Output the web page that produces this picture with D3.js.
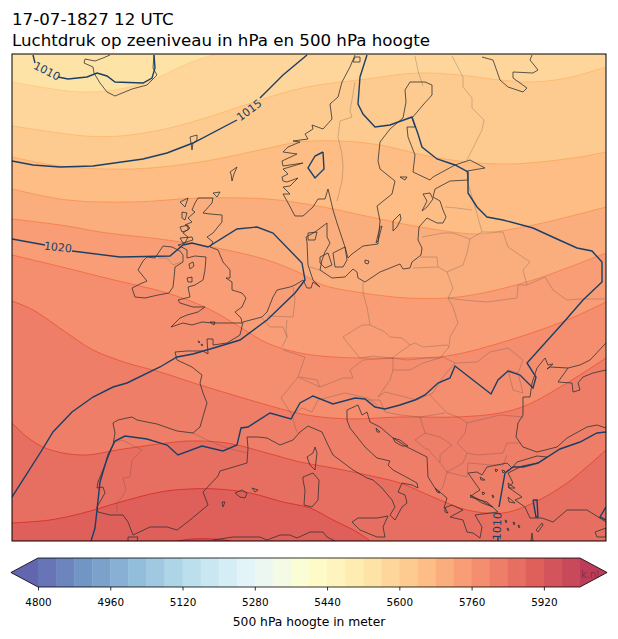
<!DOCTYPE html>
<html>
<head>
<meta charset="utf-8">
<script src="https://cdn.jsdelivr.net/npm/d3@7"></script>
<style>
body { margin: 0; background: #fff; }
text { font-family: "DejaVu Sans", sans-serif; }
</style>
</head>
<body>
<div id="chart"></div>
<script>
// map grid units: easting, southing from the top left corner of the map frame
const titleLines = ["17-07-1827 12 UTC", "Luchtdruk op zeeniveau in hPa en 500 hPa hoogte"];
const colorbarLabel = "500 hPa hoogte in meter";
const colorStops = ["#313695", "#4575b4", "#74add1", "#abd9e9", "#e0f3f8", "#ffffbf", "#fee090", "#fdae61", "#f46d43", "#d73027", "#a50026"];
const colorbarLevels = d3.range(4800, 6001, 40);
const colorbarTicks = [4800, 4960, 5120, 5280, 5440, 5600, 5760, 5920];

// 500 hPa height contours
const height5520 = [[0, 0], [594, 0]];
const height5560 = [[0,28],[28,33],[68,38],[103,36],[128,30],[145,24],[175,10],[204,0]];
const height5600 = [[0,72],[33,77],[73,82],[108,82],[153,75],[203,61],[248,46],[295,33],[355,25],[405,19],[448,21],[488,26],[521,28],[555,24],[594,13]];
const height5640 = [[0,103],[48,112],[121,115],[188,108],[248,96],[288,88],[328,87],[368,91],[411,101],[455,108],[498,110],[528,108],[568,103],[594,98]];
const height5680 = [[0,135],[55,146],[121,148],[188,144],[255,145],[288,149],[321,155],[368,165],[408,173],[465,180],[495,176],[535,168],[571,159],[594,153]];
const height5720 = [[0,165],[55,172],[88,178],[155,186],[205,194],[255,206],[288,219],[311,231],[351,239],[395,244],[435,244],[471,239],[521,226],[555,214],[594,199]];
const height5760 = [[0,201],[50,213],[98,225],[155,239],[195,254],[228,273],[255,289],[288,299],[321,303],[388,304],[435,302],[488,289],[555,266],[594,248]];
const height5800 = [[0,247],[21,256],[55,279],[81,296],[115,309],[148,318],[188,331],[221,341],[255,351],[281,358],[301,362],[338,365],[388,363],[445,363],[488,359],[515,351],[555,329],[594,304]];
const height5840 = [[0,369],[15,383],[31,393],[51,399],[75,401],[105,396],[155,389],[178,387],[215,389],[255,399],[288,408],[321,414],[355,421],[388,429],[421,443],[455,456],[491,459],[521,449],[555,429],[594,396]];
const height5880 = [[0,469],[38,466],[71,459],[105,449],[148,438],[178,435],[205,435],[238,439],[271,448],[298,454],[321,466],[345,478],[358,487]];
const height5920 = [[165,487],[181,485],[208,485.5],[218,487]];
const heightLevels = [5520, 5560, 5600, 5640, 5680, 5720, 5760, 5800, 5840, 5880, 5920];
const heightLines = [height5520, height5560, height5600, height5640, height5680, height5720, height5760, height5800, height5840, height5880, height5920];

// sea level pressure contours, broken where a label sits
const pressure1010a = [[21,1],[23,9]];
const pressure1010b = [[46,23],[56,25],[75,23],[85,19],[95,22],[103,28],[131,29],[140,24],[143,14],[142,1]];
const pressure1015a = [[0,107],[21,111],[48,113],[81,112],[131,105],[155,99],[181,89],[225,66]];
const pressure1015b = [[248,44],[271,21],[295,1]];
const pressure1015c = [[355,1],[348,23],[346,50],[351,60],[363,73],[378,71],[400,63],[406,80],[410,93],[425,105],[443,111],[456,118],[456,126],[456,139],[465,153],[475,163],[491,166],[521,174],[545,185],[565,194],[580,197],[590,208],[590,228],[571,246],[551,269],[515,309],[524,323],[521,334],[508,321],[496,317],[486,326],[479,340],[443,312],[438,324],[426,329],[413,341],[403,346],[388,351],[373,355],[363,353],[353,345],[343,344],[321,350],[301,342],[288,349],[279,365],[258,359],[236,373],[229,374],[225,391],[211,397],[190,392],[166,401],[155,391],[135,385],[113,382],[103,387],[96,401],[88,428],[85,456],[83,474],[79,487]];
const pressure1015d = [[311,98],[303,102],[296,114],[303,124],[312,115],[311,98]];
const pressure1020a = [[0,185],[33,191]];
const pressure1020b = [[60,197],[108,203],[158,202],[171,191],[180,189],[196,193],[225,175],[245,173],[261,179],[290,209],[293,226],[283,239],[255,266],[228,286],[205,293],[181,300],[165,303],[148,313],[115,329],[101,333],[81,343],[60,358],[41,378],[30,396],[0,443]];
const pressure1010c = [[594,378],[585,379],[568,388],[548,395],[526,409],[511,413],[501,413],[493,419],[490,436],[487,453]];
const pressure1010d = [[486,483],[486,487]];
const pressure1010e = [[521,446],[525,446],[526,463],[524,463],[521,446]];
const pressure1010f = [[594,453],[588,463],[594,466]];
const pressureLines = [pressure1010a, pressure1010b, pressure1015a, pressure1015b, pressure1015c, pressure1015d, pressure1020a, pressure1020b, pressure1010c, pressure1010d, pressure1010e, pressure1010f];
const pressureLabels = ["1010", "1015", "1020", "1010"];
const pressureLabelAt = [[35,17,27], [237,56,-37], [46,193,6], [485,472,-88]];

// coast lines
const coastAtlantic = [[121,481],[116,468],[111,461],[98,461],[86,458],[85,453],[93,439],[91,433],[85,434],[86,428],[95,406],[101,391],[103,379],[101,369],[106,366],[115,364],[120,363],[125,366],[145,370],[165,377],[181,379],[188,373],[192,359],[195,349],[191,339],[188,329],[190,321],[180,313],[165,306],[163,298],[175,297],[191,297],[196,300],[195,285],[201,285],[201,291],[215,289],[228,281],[231,268],[250,263],[255,258],[261,243],[265,236],[278,233],[283,231],[291,226],[295,234],[299,234],[301,228],[308,233],[301,226],[296,211],[295,188],[294,183],[303,178],[315,169],[315,183],[318,189],[313,198],[310,206],[308,216],[320,224],[333,223],[341,215],[345,218],[346,224],[353,228],[368,218],[388,210],[391,215],[398,214],[400,208],[409,201],[410,194],[406,186],[407,173],[415,164],[425,169],[431,169],[434,163],[431,156],[428,147],[421,143],[423,135],[438,127],[456,126],[455,117],[473,114],[458,106],[443,111],[421,123],[418,126],[401,118],[403,101],[396,83],[395,73],[403,73],[400,64],[411,51],[420,41],[420,31],[413,28],[398,28],[393,36],[394,48],[391,64],[378,75],[368,88],[366,107],[368,115],[383,127],[380,140],[365,152],[368,167],[366,190],[351,192],[340,200],[336,204],[333,193],[325,169],[321,156],[318,143],[316,135],[313,145],[306,145],[301,153],[291,162],[283,162],[275,147],[271,140],[278,140],[271,133],[278,132],[286,124],[275,128],[271,127],[270,123],[276,120],[271,115],[291,109],[271,112],[270,107],[285,100],[271,98],[276,93],[288,88],[281,87],[296,85],[293,80],[301,75],[300,71],[311,75],[320,65],[318,50],[326,43],[330,28],[338,13],[343,1]];
const coastMediterranean = [[121,481],[138,473],[155,473],[165,476],[178,466],[196,451],[191,438],[206,422],[208,417],[235,409],[236,394],[235,383],[246,383],[255,384],[268,391],[281,386],[288,378],[296,372],[310,378],[316,391],[321,401],[341,416],[355,424],[361,426],[370,434],[380,446],[383,453],[378,461],[383,466],[390,453],[395,449],[393,441],[386,438],[390,429],[400,431],[406,434],[405,429],[396,424],[381,416],[376,411],[378,407],[365,404],[353,393],[338,374],[335,366],[335,356],[346,351],[350,361],[355,358],[358,368],[368,373],[381,384],[395,393],[415,403],[416,423],[423,434],[435,444],[432,454],[440,451],[451,456],[438,463],[451,466],[455,478],[461,479],[468,484],[470,473],[463,461],[478,459],[486,458],[475,448],[458,443],[463,439],[468,436],[456,419],[465,418],[470,421],[475,413],[495,409],[500,414],[505,408],[525,402],[535,403]];
const coastTurkey = [[535,403],[526,409],[510,412],[496,419],[501,429],[496,433],[510,443],[503,446],[513,453],[518,464],[530,464],[541,468],[555,456],[575,456],[583,461],[594,468]];
const coastBlackSea = [[594,316],[581,319],[571,323],[566,329],[568,336],[561,338],[560,329],[546,328],[556,314],[538,313],[535,315],[541,310],[536,311],[533,304],[525,314],[520,329],[518,343],[511,343],[511,361],[506,369],[504,383],[511,393],[525,398],[545,393],[555,384],[575,373],[585,371],[594,374]];
const coastAzov = [[556,314],[568,311],[578,306],[594,289]];
const coastIceland = [[98,1],[91,4],[83,7],[73,5],[72,9],[81,13],[82,19],[88,29],[95,38],[103,42],[120,35],[135,31],[145,21],[141,14],[142,1]];
const coastKola = [[470,3],[481,6],[488,26],[496,33],[511,38],[515,34],[501,24],[501,18],[521,19],[526,16],[518,6],[520,1]];
const coastNorthAfrica = [[201,486],[221,483],[248,483],[255,486],[268,481],[278,481],[285,484],[298,478],[311,478],[315,483],[323,487]];
const coastMorocco = [[116,487],[116,483],[126,483],[125,487]];
const openCoasts = [coastAtlantic, coastMediterranean, coastTurkey, coastBlackSea, coastAzov, coastIceland, coastKola, coastNorthAfrica, coastMorocco];

// islands
const britain = [[183,149],[186,144],[201,144],[200,149],[191,159],[198,160],[210,161],[210,168],[205,174],[201,179],[195,183],[201,188],[198,193],[206,196],[211,208],[218,216],[218,224],[214,224],[220,228],[220,236],[230,239],[234,244],[230,253],[223,258],[229,264],[230,269],[218,269],[201,269],[190,268],[180,271],[171,269],[159,273],[168,264],[175,261],[186,258],[193,253],[181,253],[168,249],[166,246],[178,243],[176,233],[183,231],[191,226],[193,216],[194,203],[183,202],[175,204],[175,196],[166,191],[173,189],[176,183],[171,179],[178,174],[173,171],[180,168],[176,164],[183,158],[180,156]];
const ireland = [[143,204],[151,192],[160,193],[168,197],[171,201],[171,208],[163,213],[162,224],[161,233],[157,239],[146,241],[133,244],[123,243],[120,234],[128,230],[135,227],[126,216],[131,207],[135,203]];
const corsica = [[303,393],[305,399],[303,416],[298,411],[295,403],[301,399]];
const sardinia = [[291,423],[301,419],[307,426],[306,446],[300,453],[292,451],[293,436],[291,426]];
const sicily = [[340,468],[346,464],[365,464],[376,462],[371,473],[373,483],[365,483],[348,476]];
const mallorca = [[223,439],[230,436],[235,439],[233,444],[228,443]];
const smallIslands = [
  [[178,83],[185,81],[185,86],[181,89],[180,96],[179,89]], [[218,118],[225,113],[222,120],[220,127],[219,120]], [[201,139],[208,138],[205,143]],
  [[168,148],[176,144],[173,153]], [[170,158],[175,159],[173,166],[170,164]], [[168,173],[176,171],[176,176],[170,178]], [[168,184],[180,183],[181,186],[171,189]],
  [[177,210],[181,208],[182,212],[178,215]], [[175,224],[180,223],[180,228],[176,228]], [[198,268],[203,268],[202,271]], [[186,287],[188,288],[187,289]], [[189,290],[191,291],[190,292]],
  [[240,434],[246,436],[243,438]], [[210,448],[213,448],[211,453]],
  [[388,160],[381,167],[381,177],[385,173],[389,165]], [[370,172],[366,187],[364,189],[368,173]], [[411,140],[418,139],[421,145],[415,153],[410,157],[415,147]], [[388,123],[395,123],[393,126]],
  [[308,203],[316,199],[320,211],[313,214],[308,209]], [[321,199],[333,193],[335,206],[331,213],[323,213]], [[353,206],[357,207],[356,210],[353,209]], [[296,179],[305,178],[303,186],[296,186]],
  [[343,3],[348,3],[348,8],[341,8]],
  [[381,384],[388,386],[396,392],[390,392],[383,388]], [[364,374],[368,378],[365,378]], [[423,434],[428,439],[425,438]], [[433,454],[436,459],[433,458]],
  [[458,441],[470,447],[481,453],[470,449]], [[496,429],[503,434],[497,434]], [[496,443],[503,449],[497,448]], [[468,423],[473,426],[469,426]],
  [[493,466],[495,467],[494,469]], [[501,468],[503,469],[502,471]], [[506,471],[508,472],[507,474]], [[495,474],[497,475],[496,477]], [[480,441],[482,442],[481,444]], [[470,438],[473,439],[471,441]], [[490,416],[493,417],[491,419]], [[483,415],[486,416],[484,418]],
  [[524,476],[530,469],[531,471],[526,478]], [[520,479],[521,487],[519,487]], [[583,478],[594,474],[594,483],[585,483]]
];
const closedCoasts = [britain, ireland, corsica, sardinia, sicily, mallorca].concat(smallIslands);

// country borders
const borderNorwaySweden = [[343,28],[338,57],[340,63],[328,67],[326,83],[330,100],[331,113],[330,127],[325,147]];
const borderSwedenFinland = [[403,2],[406,17],[411,32]];
const borderFinlandRussia = [[440,2],[451,23],[451,33],[460,44],[460,54],[472,66],[470,76],[455,106]];
const borderEstonia = [[455,126],[463,153],[470,178]];
const borderEstoniaLatvia = [[433,153],[445,154],[460,156]];
const borderLatviaLithuania = [[410,183],[431,179],[441,179],[458,185],[470,178]];
const borderLithuania = [[458,185],[455,199],[451,211],[435,218],[426,213],[425,203],[408,203]];
const borderKaliningrad = [[401,214],[426,213]];
const borderBelarusRussia = [[470,178],[491,178],[496,193],[518,208],[511,216],[515,231],[533,223],[541,236],[555,246],[568,245],[594,245]];
const borderPolandEast = [[435,218],[441,234],[436,244],[441,253],[446,269],[438,283],[437,293]];
const borderBelarusUkraine = [[436,244],[451,246],[475,248],[505,244],[506,231],[515,231]];
const borderGermanyPoland = [[351,228],[351,239],[355,253],[358,271]];
const borderCzechia = [[358,271],[350,271],[331,283],[343,298],[348,304],[361,302],[380,304],[398,291],[390,284],[378,283],[373,278],[358,271]];
const borderPolandSouth = [[398,291],[403,289],[411,293],[435,291],[437,293]];
const borderSlovakiaSouth = [[380,304],[395,306],[415,304],[428,304],[437,293]];
const borderAustriaSouth = [[288,323],[305,326],[308,333],[331,324],[341,324],[338,316],[351,306],[381,304]];
const borderHungaryNorth = [[381,304],[381,316],[398,316],[411,309],[431,303],[443,309],[465,308],[478,298],[496,294],[511,306],[506,319]];
const borderHungaryEast = [[443,309],[431,323],[421,339],[411,343],[405,346],[373,338],[366,343],[378,326],[381,316]];
const borderRomaniaSouth = [[512,363],[488,361],[455,369],[448,364],[435,359],[418,341]];
const borderMoldova = [[496,316],[501,336],[511,339],[506,319],[496,316]];
const borderCroatia = [[355,346],[368,346],[373,358],[388,361],[408,363],[413,379],[403,386],[415,396]];
const borderSerbiaEast = [[408,363],[433,359]];
const borderSerbiaBulgaria = [[455,369],[453,379],[445,389],[455,399],[451,409],[435,418]];
const borderKosovo = [[428,409],[428,401],[440,391],[428,383],[413,379]];
const borderAlbania = [[415,394],[428,409],[435,418],[431,433],[426,439]];
const borderGreeceNorth = [[435,418],[455,423],[456,409],[480,411],[491,411],[495,401]];
const borderBulgariaSouth = [[455,399],[465,401],[491,399],[495,389],[508,389]];
const borderFranceSpain = [[181,379],[195,386],[215,394],[235,399]];
const borderSpainPortugal = [[103,388],[110,386],[130,396],[120,406],[118,423],[111,424],[114,436],[110,443],[105,449],[105,459]];
const borderFranceBelgium = [[250,264],[258,273],[271,273],[275,283],[270,293]];
const borderBelgiumNetherlands = [[256,262],[281,263],[283,246],[281,233]];
const borderBelgiumGermany = [[275,266],[274,276],[275,283]];
const borderFranceGermany = [[271,296],[293,303],[286,323],[269,344],[280,361],[284,376],[287,380]];
const borderSwissGermany = [[286,323],[308,333]];
const borderItalyNorth = [[280,361],[290,354],[300,358],[306,346],[333,339],[356,344],[365,351]];
const borderDenmark = [[298,213],[308,216]];
const borderIreland = [[146,204],[155,204],[161,211],[169,208]];
const borderLines = [borderNorwaySweden, borderSwedenFinland, borderFinlandRussia, borderEstonia, borderEstoniaLatvia, borderLatviaLithuania, borderLithuania, borderKaliningrad, borderBelarusRussia, borderPolandEast, borderBelarusUkraine, borderGermanyPoland, borderCzechia, borderPolandSouth, borderSlovakiaSouth, borderAustriaSouth, borderHungaryNorth, borderHungaryEast, borderRomaniaSouth, borderMoldova, borderCroatia, borderSerbiaEast, borderSerbiaBulgaria, borderKosovo, borderAlbania, borderGreeceNorth, borderBulgariaSouth, borderFranceSpain, borderSpainPortugal, borderFranceBelgium, borderBelgiumNetherlands, borderBelgiumGermany, borderFranceGermany, borderSwissGermany, borderItalyNorth, borderDenmark, borderIreland];

const width = 618, height = 639;
const mapLeft = 12, mapTop = 54, mapRight = 606, mapBottom = 541;
const barLeft = 38, barRight = 580, barTop = 558, barBottom = 587;
const fillAlpha = 0.76;

const svg = d3.select("#chart").append("svg")
    .attr("width", width)
    .attr("height", height)
    .style("display", "block");

const x = d3.scaleLinear().domain([0, 594]).range([mapLeft, mapRight]);
const y = d3.scaleLinear().domain([0, 487]).range([mapTop, mapBottom]);

// RdYlBu_r, blended on white so stacked fills don't build up
const cmap = d3.scaleLinear()
    .domain(colorStops.map((d, i) => i / (colorStops.length - 1)))
    .range(colorStops)
    .interpolate(d3.interpolateRgb);
const bandIndex = level => (level - colorbarLevels[0]) / 40;
const bandRaw = i => cmap((i + 1) / (colorbarLevels.length));
function onWhite(c) {
    const r = d3.rgb(c);
    return d3.rgb(
        r.r * fillAlpha + 255 * (1 - fillAlpha),
        r.g * fillAlpha + 255 * (1 - fillAlpha),
        r.b * fillAlpha + 255 * (1 - fillAlpha)
    ).formatHex();
}

svg.append("defs").append("clipPath")
    .attr("id", "map-clip")
    .append("rect")
    .attr("x", mapLeft)
    .attr("y", mapTop)
    .attr("width", mapRight - mapLeft)
    .attr("height", mapBottom - mapTop);

const map = svg.append("g").attr("clip-path", "url(#map-clip)");

const smoothLine = d3.line().x(d => x(d[0])).y(d => y(d[1])).curve(d3.curveCatmullRom);
const plainLine = d3.line().x(d => x(d[0])).y(d => y(d[1]));
const ringLine = d3.line().x(d => x(d[0])).y(d => y(d[1])).curve(d3.curveLinearClosed);

// filled bands, painted top down: each one covers everything south of its contour
function bandPath(line) {
    const first = line[0], last = line[line.length - 1];
    let path = smoothLine(line);
    const pts = [];
    if (last[1] === 0) pts.push([594, 0]);
    if (last[1] !== 487) pts.push([594, 487]);
    if (first[0] === 0) pts.push([0, 487]);
    pts.forEach(p => { path += "L" + x(p[0]) + "," + y(p[1]); });
    return path + "Z";
}

heightLines.forEach((line, i) => {
    const raw = bandRaw(bandIndex(heightLevels[i]));
    map.append("path")
        .attr("d", bandPath(line))
        .attr("fill", onWhite(raw));
    if (i > 0) {
        map.append("path")
            .attr("d", smoothLine(line))
            .attr("fill", "none")
            .attr("stroke", raw)
            .attr("stroke-opacity", 0.85)
            .attr("stroke-width", 1);
    }
});

// borders and coast
map.append("g").selectAll("path")
    .data(borderLines)
    .join("path")
    .attr("d", plainLine)
    .attr("fill", "none")
    .attr("stroke", "#444")
    .attr("stroke-opacity", 0.32)
    .attr("stroke-width", 0.8);

map.append("g").selectAll("path")
    .data(openCoasts)
    .join("path")
    .attr("d", plainLine)
    .attr("fill", "none")
    .attr("stroke", "#333")
    .attr("stroke-opacity", 0.8)
    .attr("stroke-width", 1);

map.append("g").selectAll("path")
    .data(closedCoasts)
    .join("path")
    .attr("d", ringLine)
    .attr("fill", "none")
    .attr("stroke", "#333")
    .attr("stroke-opacity", 0.8)
    .attr("stroke-width", 1);

// isobars
map.append("g").selectAll("path")
    .data(pressureLines)
    .join("path")
    .attr("d", plainLine)
    .attr("fill", "none")
    .attr("stroke", "#1b3f66")
    .attr("stroke-width", 1.4);

map.append("g").selectAll("text")
    .data(pressureLabels)
    .join("text")
    .attr("transform", (d, i) => `translate(${x(pressureLabelAt[i][0])},${y(pressureLabelAt[i][1])}) rotate(${pressureLabelAt[i][2]})`)
    .attr("text-anchor", "middle")
    .attr("dy", "0.36em")
    .attr("font-size", 11)
    .attr("fill", "#1b3f66")
    .text(d => d);

svg.append("rect")
    .attr("x", mapLeft)
    .attr("y", mapTop)
    .attr("width", mapRight - mapLeft)
    .attr("height", mapBottom - mapTop)
    .attr("fill", "none")
    .attr("stroke", "#000")
    .attr("stroke-width", 1);

// title
svg.selectAll("text.title")
    .data(titleLines)
    .join("text")
    .attr("class", "title")
    .attr("x", mapLeft)
    .attr("y", (d, i) => 25 + i * 21)
    .attr("font-size", 16.67)
    .attr("fill", "#000")
    .text(d => d);

// colorbar
const barX = d3.scaleLinear().domain([4800, 6000]).range([barLeft, barRight]);
const barY = d3.scaleLinear().domain([0, 1]).range([barBottom, barTop]);
const bar = svg.append("g");

bar.selectAll("rect")
    .data(d3.pairs(colorbarLevels))
    .join("rect")
    .attr("x", d => barX(d[0]))
    .attr("y", barY(1))
    .attr("width", d => barX(d[1]) - barX(d[0]) + 0.4)
    .attr("height", barY(0) - barY(1))
    .attr("fill", (d, i) => onWhite(bandRaw(i)));

const tipLine = d3.line().x(d => barX(d[0])).y(d => barY(d[1]));
const tips = [
    { pts: [[4800, 0], [4740, 0.5], [4800, 1]], color: colorStops[0] },
    { pts: [[6000, 0], [6060, 0.5], [6000, 1]], color: colorStops[colorStops.length - 1] }
];
bar.selectAll("path.tip")
    .data(tips)
    .join("path")
    .attr("class", "tip")
    .attr("d", d => tipLine(d.pts) + "Z")
    .attr("fill", d => onWhite(d.color));

bar.append("text")
    .attr("x", 599)
    .attr("y", 578)
    .attr("text-anchor", "end")
    .attr("font-size", 10)
    .attr("fill", "#000")
    .attr("fill-opacity", 0.3)
    .text("k.nl");

bar.append("path")
    .attr("d", tipLine([[4800, 0], [4740, 0.5], [4800, 1], [6000, 1], [6060, 0.5], [6000, 0]]) + "Z")
    .attr("fill", "none")
    .attr("stroke", "#000")
    .attr("stroke-width", 0.8);

const barAxis = d3.axisBottom(barX)
    .tickValues(colorbarTicks)
    .tickFormat(d3.format("d"))
    .tickSize(3.5)
    .tickPadding(8);

const axisG = svg.append("g")
    .attr("transform", `translate(0,${barBottom})`)
    .call(barAxis);
axisG.select(".domain").remove();
axisG.selectAll("text")
    .attr("font-size", 10.4)
    .attr("font-family", '"DejaVu Sans", sans-serif')
    .attr("fill", "#000");
axisG.selectAll("line").attr("stroke", "#000").attr("stroke-width", 0.8);

svg.append("text")
    .attr("x", (barLeft + barRight) / 2)
    .attr("y", 626)
    .attr("text-anchor", "middle")
    .attr("font-size", 12.3)
    .attr("fill", "#000")
    .text(colorbarLabel);
</script>
</body>
</html>
